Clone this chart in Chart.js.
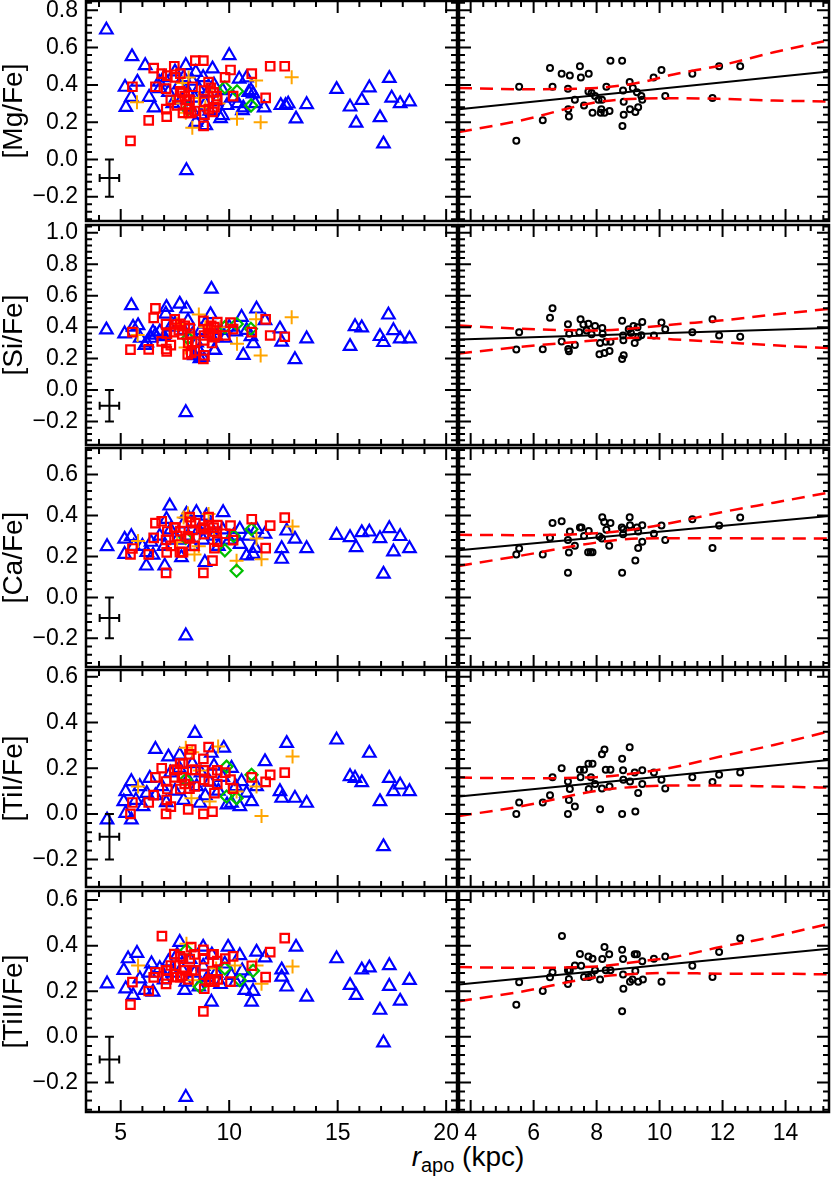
<!DOCTYPE html>
<html>
<head>
<meta charset="utf-8">
<title>[X/Fe] versus r_apo</title>
<script src="https://cdn.jsdelivr.net/npm/chart.js@4.4.1/dist/chart.umd.min.js"></script>
<style>
  html, body { margin: 0; padding: 0; background: #fff; }
  #figure {
    position: relative;
    width: 831px;
    height: 1178px;
    overflow: hidden;
    font-family: "Liberation Sans", Arial, Helvetica, sans-serif;
  }
  #figure canvas { position: absolute; }
  #xtitle {
    position: absolute;
    left: 368px;
    width: 200px;
    top: 1141px;
    text-align: center;
    font-size: 28px;
    line-height: 32px;
    white-space: nowrap;
    color: #000;
  }
  #xtitle sub { font-size: 20px; vertical-align: -6px; line-height: 0; }
</style>
</head>
<body>
<div id="figure">
  <div id="xtitle"><i>r</i><sub>apo</sub> (kpc)</div>
</div>

<script>
// ===== Axis ranges and ticks =====
const LEFT_X_RANGE  = [3.4, 20.5];
const RIGHT_X_RANGE = [3.63, 15.38];
const LEFT_X_TICKS  = [5, 10, 15, 20];
const RIGHT_X_TICKS = [4, 6, 8, 10, 12, 14];
const MG_Y_TICKS = [-0.2, 0.0, 0.2, 0.4, 0.6, 0.8];
const SI_Y_TICKS = [-0.2, 0.0, 0.2, 0.4, 0.6, 0.8, 1.0];
const CA_Y_TICKS = [-0.2, 0.0, 0.2, 0.4, 0.6];
const TI_Y_TICKS = [-0.2, 0.0, 0.2, 0.4, 0.6];

// ===== Typical error bar (centre, half-widths) =====
const ERR_CENTER = [4.48, -0.10];
const ERR_HALF   = [0.45, 0.10];

// ===== [Mg/Fe] =====
const MG_BLUE = [
  [4.34,0.695],[5.52,0.552],[6.13,0.504],[5.2,0.388],[5.77,0.415],[5.24,0.28],[5.49,0.334],[6.31,0.334],
  [6.54,0.277],[6.77,0.415],[8.0,0.504],[8.46,0.468],[9.23,0.486],[10.0,0.558],[10.46,0.432],[10.8,0.438],
  [11.0,0.37],[11.1,0.352],[10.65,0.277],[11.61,0.277],[12.38,0.29],[12.6,0.29],[12.72,0.298],[13.08,0.218],
  [13.57,0.295],[14.95,0.376],[15.57,0.282],[15.85,0.195],[16.11,0.317],[16.46,0.385],[16.95,0.225],
  [17.11,0.084],[17.38,0.435],[17.49,0.33],[17.88,0.30],[18.31,0.31],[8.03,-0.059],[8.46,0.2],[8.92,0.182],
  [9.69,0.236],[10.61,0.263],[6.8,0.38],[7.0,0.44],[7.2,0.36],[7.4,0.30],[7.5,0.47],[7.7,0.40],[7.8,0.32],
  [7.9,0.44],[8.1,0.36],[8.2,0.28],[8.3,0.42],[8.4,0.33],[8.6,0.38],[8.7,0.24],[8.8,0.44],[8.9,0.30],
  [9.0,0.36],[9.1,0.26],[9.3,0.40],[9.4,0.31],[9.6,0.22],[9.7,0.37],[9.9,0.29],[10.2,0.33],[10.4,0.30],
  [11.2,0.30],[10.9,0.36]
];
const MG_RED = [
  [5.54,0.39],[5.45,0.10],[6.29,0.21],[6.52,0.49],[6.60,0.39],[6.89,0.46],[7.15,0.45],[7.09,0.38],[7.10,0.27],
  [7.12,0.23],[7.31,0.32],[7.47,0.50],[7.50,0.44],[7.75,0.46],[7.60,0.29],[7.74,0.365],[7.84,0.357],[7.95,0.34],
  [7.87,0.25],[8.06,0.32],[8.17,0.32],[8.15,0.27],[8.13,0.25],[8.25,0.25],[8.31,0.39],[8.41,0.26],[8.44,0.53],
  [8.81,0.53],[8.84,0.37],[8.86,0.31],[8.86,0.24],[8.82,0.18],[9.05,0.415],[9.15,0.384],[9.28,0.36],[9.42,0.34],
  [9.45,0.32],[9.32,0.28],[9.23,0.255],[9.06,0.27],[9.81,0.44],[10.06,0.48],[10.18,0.34],[11.04,0.46],
  [11.68,0.33],[11.89,0.50],[12.56,0.50]
];
const MG_ORANGE = [
  [5.75,0.307],[7.4,0.30],[7.85,0.41],[8.0,0.25],[8.13,0.44],[8.3,0.17],[8.6,0.33],[8.9,0.28],[9.2,0.36],
  [9.5,0.30],[10.36,0.218],[11.24,0.424],[11.45,0.20],[12.88,0.441]
];
const MG_GREEN = [[8.1,0.27],[9.8,0.386],[10.36,0.366],[11.01,0.29]];

// ===== [Si/Fe] =====
const SI_BLUE = [
  [4.34,0.383],[5.49,0.537],[5.18,0.358],[5.57,0.40],[5.8,0.41],[6.11,0.284],[6.49,0.368],[7.11,0.526],
  [7.72,0.547],[8.03,0.516],[9.18,0.642],[9.14,0.48],[9.34,0.253],[8.65,0.2],[10.57,0.463],[10.65,0.221],
  [11.11,0.295],[11.26,0.516],[11.65,0.442],[12.34,0.389],[12.42,0.305],[13.03,0.194],[13.57,0.326],
  [15.57,0.278],[15.8,0.404],[16.11,0.396],[16.95,0.341],[17.11,0.303],[17.34,0.478],[17.57,0.379],
  [17.88,0.326],[18.31,0.326],[8.0,-0.143],[7.08,0.484],[8.77,0.21],[9.31,0.253],[6.4,0.33],[6.6,0.35],
  [6.8,0.37],[7.0,0.34],[7.3,0.40],[7.5,0.42],[7.9,0.38],[8.1,0.44],[8.3,0.35],[8.5,0.30],[8.7,0.38],
  [8.9,0.42],[9.1,0.36],[9.4,0.34],[9.6,0.38],[9.8,0.33],[10.0,0.40],[10.3,0.37],[10.8,0.38],[11.0,0.34],
  [8.4,0.22],[8.6,0.25],[6.2,0.30],[5.9,0.33]
];
const SI_RED = [
  [5.54,0.368],[5.45,0.257],[6.29,0.259],[6.52,0.459],[6.60,0.52],[6.89,0.309],[7.09,0.419],[7.13,0.358],
  [7.10,0.261],[7.12,0.246],[7.31,0.286],[7.49,0.45],[7.58,0.417],[7.74,0.421],[7.45,0.368],[7.68,0.379],
  [7.95,0.408],[7.84,0.354],[8.18,0.394],[8.19,0.358],[8.11,0.299],[8.09,0.227],[8.25,0.236],[8.29,0.307],
  [8.41,0.248],[8.44,0.307],[8.81,0.44],[8.84,0.347],[8.85,0.316],[8.86,0.221],[8.81,0.198],[9.02,0.387],
  [9.17,0.408],[9.30,0.40],[9.45,0.432],[9.42,0.349],[9.32,0.337],[9.21,0.299],[9.09,0.362],[9.82,0.347],
  [10.06,0.429],[10.18,0.387],[11.04,0.368],[11.68,0.45],[11.89,0.347],[12.56,0.339]
];
const SI_ORANGE = [
  [5.78,0.35],[7.6,0.42],[7.99,0.27],[8.3,0.33],[8.6,0.48],[8.9,0.40],[9.3,0.37],[9.6,0.40],[10.36,0.295],
  [11.24,0.45],[11.45,0.22],[12.88,0.463]
];
const SI_GREEN = [[8.1,0.33],[9.8,0.40],[10.35,0.42],[11.0,0.39]];

// ===== [Ca/Fe] =====
const CA_BLUE = [
  [4.37,0.249],[5.18,0.285],[5.18,0.211],[5.49,0.298],[6.18,0.154],[6.49,0.207],[7.03,0.154],[7.26,0.447],
  [7.11,0.382],[7.8,0.195],[8.03,0.407],[8.49,0.415],[8.95,0.398],[8.88,0.171],[9.72,0.415],[10.49,0.333],
  [10.8,0.203],[11.11,0.211],[11.26,0.333],[11.65,0.309],[12.42,0.239],[12.42,0.187],[12.65,0.325],
  [13.03,0.285],[13.57,0.239],[14.95,0.304],[15.57,0.293],[15.85,0.244],[16.11,0.317],[16.46,0.32],
  [16.95,0.288],[17.11,0.114],[17.38,0.337],[17.57,0.223],[17.88,0.298],[18.31,0.239],[8.0,-0.187],
  [6.0,0.25],[6.4,0.27],[6.8,0.30],[7.0,0.25],[7.3,0.33],[7.6,0.28],[7.9,0.36],[8.1,0.30],[8.3,0.25],
  [8.6,0.33],[8.8,0.28],[9.1,0.35],[9.3,0.30],[9.5,0.25],[9.7,0.33],[10.0,0.28],[10.2,0.30],[10.5,0.26],
  [10.9,0.30],[11.2,0.24],[6.2,0.22],[5.6,0.25]
];
const CA_RED = [
  [5.54,0.239],[5.45,0.21],[6.29,0.21],[6.52,0.291],[6.60,0.363],[6.89,0.372],[7.09,0.281],[7.15,0.322],
  [7.12,0.22],[7.09,0.12],[7.31,0.252],[7.47,0.341],[7.52,0.341],[7.60,0.30],[7.75,0.324],[7.73,0.221],
  [7.81,0.221],[7.87,0.221],[8.09,0.298],[8.17,0.288],[8.18,0.392],[8.24,0.369],[8.31,0.33],[8.44,0.363],
  [8.40,0.252],[8.80,0.341],[8.85,0.333],[8.84,0.309],[8.81,0.12],[9.05,0.392],[9.06,0.353],[9.28,0.341],
  [9.32,0.322],[9.45,0.353],[9.45,0.272],[9.32,0.241],[9.23,0.18],[9.82,0.311],[10.06,0.351],[10.18,0.28],
  [11.04,0.382],[11.68,0.241],[11.89,0.351],[12.56,0.39]
];
const CA_ORANGE = [
  [5.8,0.276],[7.6,0.27],[7.9,0.39],[8.1,0.41],[8.4,0.21],[8.6,0.25],[9.05,0.407],[9.3,0.30],[10.34,0.179],
  [11.26,0.288],[11.49,0.187],[12.92,0.346]
];
const CA_GREEN = [[8.0,0.29],[9.8,0.23],[10.2,0.30],[10.34,0.13],[11.03,0.333]];

// ===== [TiI/Fe] =====
const TI1_BLUE = [
  [4.37,-0.026],[5.14,0.054],[5.23,0.098],[5.49,0.142],[5.23,0.003],[5.49,-0.026],[5.88,0.12],[6.03,0.032],
  [6.34,0.156],[6.6,0.283],[7.72,0.258],[8.42,0.353],[8.65,0.047],[9.18,0.266],[9.75,0.288],[10.11,0.2],
  [10.11,0.047],[10.49,0.032],[10.57,0.142],[10.8,0.091],[11.03,0.054],[11.26,0.12],[11.65,0.229],
  [12.34,0.098],[12.42,0.069],[12.65,0.309],[13.03,0.069],[13.57,0.047],[14.95,0.324],[15.57,0.164],
  [15.8,0.156],[16.11,0.137],[16.46,0.266],[16.95,0.054],[17.11,-0.143],[17.38,0.156],[17.57,0.098],
  [17.88,0.127],[18.31,0.098],[6.6,0.08],[6.9,0.12],[7.1,0.05],[7.3,0.18],[7.5,0.10],[7.7,0.20],[7.9,0.06],
  [8.1,0.15],[8.3,0.22],[8.5,0.12],[8.7,0.18],[8.9,0.08],[9.1,0.14],[9.3,0.21],[9.5,0.10],[9.7,0.16],
  [9.9,0.04],[10.3,0.12],[6.2,0.09],[5.7,0.06],[7.2,0.25]
];
const TI1_RED = [
  [5.54,0.05],[5.45,0.0],[6.29,0.05],[6.52,0.082],[6.60,0.16],[6.89,0.20],[7.09,0.142],[7.15,0.109],
  [7.12,0.061],[7.09,0.0],[7.31,0.032],[7.47,0.193],[7.60,0.193],[7.49,0.16],[7.74,0.22],[7.87,0.22],
  [7.82,0.16],[7.75,0.109],[7.95,0.131],[8.11,0.02],[8.17,0.261],[8.25,0.282],[8.29,0.193],[8.44,0.193],
  [8.17,0.111],[8.41,0.12],[8.81,0.241],[8.84,0.191],[8.85,0.149],[8.81,0.0],[9.05,0.292],[9.06,0.142],
  [9.21,0.181],[9.45,0.191],[9.45,0.131],[9.32,0.091],[9.23,0.01],[9.82,0.181],[10.06,0.15],[10.18,0.111],
  [11.04,0.16],[11.68,0.14],[11.89,0.171],[12.56,0.181]
];
const TI1_ORANGE = [
  [5.8,0.12],[8.0,0.29],[8.26,0.069],[8.3,0.27],[8.65,0.19],[9.1,0.054],[9.49,0.295],[10.34,0.098],
  [11.26,0.12],[11.49,-0.009],[12.92,0.251]
];
const TI1_GREEN = [[8.0,0.15],[9.88,0.207],[9.88,0.076],[10.34,0.069],[11.03,0.171]];

// ===== [TiII/Fe] =====
const TI2_BLUE = [
  [4.37,0.233],[5.14,0.292],[5.23,0.211],[5.57,0.182],[5.34,0.343],[5.75,0.367],[5.88,0.255],[6.11,0.204],
  [6.49,0.197],[6.42,0.321],[7.72,0.415],[7.95,0.204],[8.8,0.394],[9.18,0.153],[9.95,0.394],[10.49,0.357],
  [10.72,0.204],[11.03,0.153],[11.26,0.372],[11.65,0.347],[12.42,0.294],[12.42,0.262],[12.65,0.219],
  [13.08,0.394],[13.57,0.175],[14.95,0.343],[15.57,0.226],[15.85,0.182],[16.11,0.294],[16.46,0.303],
  [16.95,0.117],[17.11,-0.026],[17.38,0.313],[17.38,0.222],[17.88,0.157],[18.31,0.248],[8.0,-0.265],
  [6.8,0.30],[7.0,0.25],[7.2,0.33],[7.4,0.28],[7.6,0.36],[7.8,0.30],[8.0,0.24],[8.2,0.34],[8.4,0.28],
  [8.6,0.22],[8.8,0.31],[9.0,0.26],[9.2,0.36],[9.4,0.28],[9.6,0.23],[9.8,0.32],[10.1,0.27],[10.3,0.24],
  [10.6,0.29],[10.9,0.26],[11.1,0.20],[6.3,0.28]
];
const TI2_RED = [
  [5.54,0.24],[5.45,0.141],[6.29,0.201],[6.52,0.261],[6.60,0.283],[6.90,0.442],[7.09,0.292],[7.15,0.292],
  [7.12,0.254],[7.09,0.232],[7.31,0.313],[7.47,0.363],[7.51,0.312],[7.74,0.353],[7.87,0.343],[7.60,0.262],
  [7.75,0.262],[7.84,0.268],[7.95,0.292],[8.11,0.252],[8.18,0.341],[8.25,0.394],[8.40,0.362],[8.29,0.292],
  [8.44,0.292],[8.81,0.382],[8.84,0.341],[8.84,0.273],[8.85,0.211],[8.81,0.112],[9.21,0.362],[9.28,0.362],
  [9.23,0.289],[9.45,0.332],[9.47,0.252],[9.32,0.242],[9.06,0.242],[9.14,0.252],[9.82,0.343],[10.18,0.353],
  [10.06,0.242],[11.04,0.312],[11.68,0.262],[11.89,0.372],[12.56,0.433]
];
const TI2_ORANGE = [
  [5.8,0.313],[8.03,0.408],[8.34,0.248],[9.4,0.30],[10.26,0.313],[11.26,0.313],[11.49,0.233],[12.92,0.309]
];
const TI2_GREEN = [[8.03,0.38],[8.65,0.22],[9.8,0.30],[10.49,0.248],[11.1,0.29]];

// ===== Linear fits and their confidence bands (right column) =====
const FIT_X  = [3.63, 15.38];
const BAND_X = [3.63, 5.56, 8.0, 9.38, 10.44, 11.93, 13.63, 15.38];
const MG_FIT    = [0.270, 0.472];
const MG_UPPER  = [0.384, 0.377, 0.384, 0.413, 0.456, 0.504, 0.575, 0.640];
const MG_LOWER  = [0.147, 0.208, 0.307, 0.327, 0.329, 0.325, 0.316, 0.311];
const SI_FIT    = [0.322, 0.394];
const SI_UPPER  = [0.410, 0.390, 0.379, 0.396, 0.417, 0.442, 0.480, 0.516];
const SI_LOWER  = [0.232, 0.274, 0.316, 0.333, 0.322, 0.305, 0.284, 0.267];
const CA_FIT    = [0.231, 0.398];
const CA_UPPER  = [0.306, 0.304, 0.314, 0.337, 0.366, 0.415, 0.463, 0.512];
const CA_LOWER  = [0.154, 0.203, 0.268, 0.288, 0.289, 0.289, 0.288, 0.288];
const TI1_FIT   = [0.076, 0.236];
const TI1_UPPER = [0.159, 0.156, 0.161, 0.181, 0.204, 0.251, 0.302, 0.361];
const TI1_LOWER = [-0.009, 0.032, 0.101, 0.120, 0.124, 0.124, 0.120, 0.115];
const TI2_FIT   = [0.230, 0.386];
const TI2_UPPER = [0.306, 0.303, 0.309, 0.331, 0.350, 0.394, 0.440, 0.496];
const TI2_LOWER = [0.156, 0.197, 0.262, 0.277, 0.280, 0.277, 0.277, 0.274];

// ===== Colors =====
const COLORS = {
  halo:   '#0000ff',
  disk:   '#ff0000',
  plus:   '#ffa500',
  green:  '#00c000',
  black:  '#000000',
};

// ===== Layout (pixels) =====
const MARGIN     = 30;
const XAXIS_H    = 46;
const LEFT_PLOT  = { left: 86,  right: 457 };
const RIGHT_PLOT = { left: 459, right: 829 };

const ROWS = [
  { label: '[Mg/Fe]',   top: 1,   bottom: 221,  yMin: -0.33, yMax: 0.85, yTicks: MG_Y_TICKS,
    blue: MG_BLUE,  red: MG_RED,  orange: MG_ORANGE,  green: MG_GREEN,  fit: MG_FIT,  upper: MG_UPPER,  lower: MG_LOWER },
  { label: '[Si/Fe]',   top: 225, bottom: 445,  yMin: -0.35, yMax: 1.05, yTicks: SI_Y_TICKS,
    blue: SI_BLUE,  red: SI_RED,  orange: SI_ORANGE,  green: SI_GREEN,  fit: SI_FIT,  upper: SI_UPPER,  lower: SI_LOWER },
  { label: '[Ca/Fe]',   top: 448, bottom: 667,  yMin: -0.34, yMax: 0.73, yTicks: CA_Y_TICKS,
    blue: CA_BLUE,  red: CA_RED,  orange: CA_ORANGE,  green: CA_GREEN,  fit: CA_FIT,  upper: CA_UPPER,  lower: CA_LOWER },
  { label: '[TiI/Fe]',  top: 670, bottom: 887,  yMin: -0.32, yMax: 0.63, yTicks: TI_Y_TICKS,
    blue: TI1_BLUE, red: TI1_RED, orange: TI1_ORANGE, green: TI1_GREEN, fit: TI1_FIT, upper: TI1_UPPER, lower: TI1_LOWER },
  { label: '[TiII/Fe]', top: 891, bottom: 1112, yMin: -0.33, yMax: 0.64, yTicks: TI_Y_TICKS,
    blue: TI2_BLUE, red: TI2_RED, orange: TI2_ORANGE, green: TI2_GREEN, fit: TI2_FIT, upper: TI2_UPPER, lower: TI2_LOWER },
];

// ===== Chart defaults =====
Chart.defaults.font.family = '"Liberation Sans", Arial, Helvetica, sans-serif';
Chart.defaults.color = '#000';
Chart.defaults.animation = false;

// ===== Plugin: IDL-style frame with inward ticks, plus the error bar =====
const frameTicks = {
  id: 'frameTicks',
  afterDatasetsDraw(chart, args, opts) {
    const { ctx, chartArea: a, scales: { x, y } } = chart;
    ctx.save();
    ctx.strokeStyle = '#000';
    ctx.lineCap = 'butt';

    // ticks
    ctx.lineWidth = 2;
    ctx.beginPath();
    stepsBetween(x.min, x.max, opts.xMinor).forEach(v => {
      const p = x.getPixelForValue(v);
      const len = onStep(v, opts.xMajor) ? 12 : 6;
      ctx.moveTo(p, a.bottom); ctx.lineTo(p, a.bottom - len);
      ctx.moveTo(p, a.top);    ctx.lineTo(p, a.top + len);
    });
    stepsBetween(y.min, y.max, opts.yMinor).forEach(v => {
      const p = y.getPixelForValue(v);
      const len = onStep(v, opts.yMajor) ? 12 : 6;
      ctx.moveTo(a.left, p);  ctx.lineTo(a.left + len, p);
      ctx.moveTo(a.right, p); ctx.lineTo(a.right - len, p);
    });
    ctx.stroke();

    // typical error bar
    if (opts.errorBar) {
      const cx = x.getPixelForValue(ERR_CENTER[0]);
      const cy = y.getPixelForValue(ERR_CENTER[1]);
      const x0 = x.getPixelForValue(ERR_CENTER[0] - ERR_HALF[0]);
      const x1 = x.getPixelForValue(ERR_CENTER[0] + ERR_HALF[0]);
      const y0 = y.getPixelForValue(ERR_CENTER[1] - ERR_HALF[1]);
      const y1 = y.getPixelForValue(ERR_CENTER[1] + ERR_HALF[1]);
      ctx.beginPath();
      ctx.moveTo(x0, cy); ctx.lineTo(x1, cy);
      ctx.moveTo(x0, cy - 4); ctx.lineTo(x0, cy + 4);
      ctx.moveTo(x1, cy - 4); ctx.lineTo(x1, cy + 4);
      ctx.moveTo(cx, y0); ctx.lineTo(cx, y1);
      ctx.moveTo(cx - 4.5, y0); ctx.lineTo(cx + 4.5, y0);
      ctx.moveTo(cx - 4.5, y1); ctx.lineTo(cx + 4.5, y1);
      ctx.stroke();
    }

    // frame
    ctx.lineWidth = 2.5;
    ctx.strokeRect(a.left, a.top, a.right - a.left, a.bottom - a.top);
    ctx.restore();
  }
};

// ===== Build =====
const fig = document.getElementById('figure');

ROWS.forEach((row, i) => {
  const last = i === ROWS.length - 1;
  makePanel(row, last, true);
  makePanel(row, last, false);
});

function makePanel(row, last, isLeft) {
  const plot = isLeft ? LEFT_PLOT : RIGHT_PLOT;
  const canvasLeft = isLeft ? 0 : plot.left - MARGIN;
  const width  = isLeft ? plot.right + MARGIN : plot.right - plot.left + 2 * MARGIN;
  const height = row.bottom - row.top + MARGIN + (last ? XAXIS_H : MARGIN);

  const canvas = document.createElement('canvas');
  canvas.width  = width;
  canvas.height = height;
  canvas.style.left   = canvasLeft + 'px';
  canvas.style.top    = (row.top - MARGIN) + 'px';
  canvas.style.width  = width + 'px';
  canvas.style.height = height + 'px';
  fig.appendChild(canvas);

  const xRange = isLeft ? LEFT_X_RANGE : RIGHT_X_RANGE;
  const xTicks = isLeft ? LEFT_X_TICKS : RIGHT_X_TICKS;

  new Chart(canvas, {
    type: 'scatter',
    data: { datasets: isLeft ? leftDatasets(row) : rightDatasets(row) },
    options: {
      responsive: false,
      devicePixelRatio: 1,
      animation: false,
      events: [],
      layout: {
        padding: { left: isLeft ? 0 : MARGIN, right: MARGIN, top: MARGIN, bottom: last ? 0 : MARGIN },
      },
      plugins: {
        legend:  { display: false },
        tooltip: { enabled: false },
        frameTicks: {
          xMinor: isLeft ? 1 : 0.4,
          xMajor: isLeft ? 5 : 2,
          yMinor: 0.04,
          yMajor: 0.2,
          errorBar: isLeft,
        },
      },
      scales: {
        x: {
          type: 'linear',
          min: xRange[0],
          max: xRange[1],
          display: last,
          grid:   { display: false, drawTicks: false },
          border: { display: false },
          ticks:  { font: { size: 23 }, padding: 8, maxRotation: 0, autoSkip: false, color: '#000' },
          afterBuildTicks: s => { s.ticks = xTicks.map(v => ({ value: v })); },
          afterFit: s => { if (last) s.height = XAXIS_H; },
        },
        y: {
          type: 'linear',
          min: row.yMin,
          max: row.yMax,
          display: isLeft,
          grid:   { display: false, drawTicks: false },
          border: { display: false },
          ticks:  { font: { size: 23 }, padding: 8, autoSkip: false, color: '#000', callback: v => fmtTick(v) },
          title:  { display: true, text: row.label, color: '#000', font: { size: 28, lineHeight: 1 }, padding: 0 },
          afterBuildTicks: s => { s.ticks = row.yTicks.map(v => ({ value: v })); },
          afterFit: s => { if (isLeft) s.width = LEFT_PLOT.left; },
        },
      },
    },
    plugins: [frameTicks],
  });
}

// first dataset is drawn on top
function leftDatasets(row) {
  return [
    markers(row.red,    'rect',    6,   COLORS.disk,  2.2),
    markers(row.green,  'rectRot', 6,   COLORS.green, 2.2),
    markers(row.orange, 'cross',   7,   COLORS.plus,  2),
    markers(row.blue,   'triangle', 7.2, COLORS.halo, 2.2),
  ];
}

function rightDatasets(row) {
  return [
    line(zip(BAND_X, row.upper), COLORS.disk, 2.5, [13, 8]),
    line(zip(BAND_X, row.lower), COLORS.disk, 2.5, [13, 8]),
    line(zip(FIT_X, row.fit),    COLORS.black, 2, []),
    markers(row.red, 'circle', 3, COLORS.black, 2),
  ];
}

function markers(list, style, radius, color, width) {
  return {
    data: pts(list),
    pointStyle: style,
    pointRadius: radius,
    pointBorderWidth: width,
    pointBorderColor: color,
    pointBackgroundColor: 'rgba(0,0,0,0)',
    borderColor: color,
    backgroundColor: 'rgba(0,0,0,0)',
    showLine: false,
  };
}

function line(list, color, width, dash) {
  return {
    data: pts(list),
    showLine: true,
    borderColor: color,
    borderWidth: width,
    borderDash: dash,
    pointRadius: 0,
    fill: false,
    cubicInterpolationMode: 'monotone',
  };
}

// ===== Helpers =====
function pts(list) {
  return list.map(([x, y]) => ({ x, y }));
}

function zip(xs, ys) {
  return xs.map((x, i) => [x, ys[i]]);
}

function stepsBetween(min, max, step) {
  const out = [];
  for (let k = Math.ceil(min / step - 1e-9); k * step <= max + 1e-9; k++) out.push(k * step);
  return out;
}

function onStep(v, step) {
  const r = v / step;
  return Math.abs(r - Math.round(r)) < 1e-6;
}

function fmtTick(v) {
  const s = Math.abs(v).toFixed(1);
  return v < -1e-9 ? '\u2212' + s : s;
}
</script>
</body>
</html>
